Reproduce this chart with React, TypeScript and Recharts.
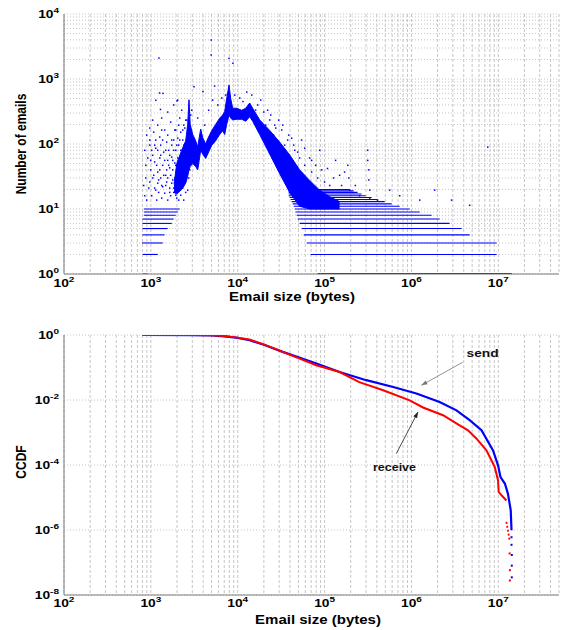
import React from 'react';
import {
  ComposedChart,
  XAxis,
  YAxis,
  CartesianGrid,
  Scatter,
  Line,
  Area,
  ReferenceLine,
  ReferenceDot,
} from 'recharts';

const FONT = '"Liberation Sans", Arial, Helvetica, sans-serif';
const BLUE = '#0000ff';
const RED = '#ff0000';
const GRID = '#c6c6c6';
const AXIS = '#7a7a7a';
const SX = 1.25;

// ---------- tick values ----------
const xTicks = [
  100, 200, 300, 400, 500, 600, 700, 800, 900,
  1000, 2000, 3000, 4000, 5000, 6000, 7000, 8000, 9000,
  10000, 20000, 30000, 40000, 50000, 60000, 70000, 80000, 90000,
  100000, 200000, 300000, 400000, 500000, 600000, 700000, 800000, 900000,
  1000000, 2000000, 3000000, 4000000, 5000000, 6000000, 7000000, 8000000, 9000000,
  10000000, 20000000, 30000000, 40000000,
];
const topYTicks = [
  1, 2, 3, 4, 5, 6, 7, 8, 9,
  10, 20, 30, 40, 50, 60, 70, 80, 90,
  100, 200, 300, 400, 500, 600, 700, 800, 900,
  1000, 2000, 3000, 4000, 5000, 6000, 7000, 8000, 9000,
  10000,
];
const bottomYTicks = [1e-8, 1e-6, 1e-4, 1e-2, 1];

// ---------- top panel: dense body of the distribution ----------
const bodyX = [
  1850, 1986, 2265, 2518, 2655, 2748, 2837, 3033, 3283, 3461, 3603, 3750, 3955, 4278,
  4510, 5012, 5572, 6196, 6712, 7079, 7464, 7943, 8299, 8750, 9730, 11120, 12360,
  13740, 14860, 17900, 23330, 30410, 39630, 51650, 67310, 87720, 114300, 148900,
];
const bodyLow = [
  18, 17, 20, 25, 32, 40, 45, 50, 45, 40, 56, 80, 70, 60,
  70, 95, 112, 140, 160, 140, 200, 280, 250, 235, 240, 240, 224,
  263, 224, 140, 70, 35, 18, 11, 10, 10, 10, 10,
];
const bodyHigh = [
  24, 50, 80, 112, 200, 480, 200, 140, 112, 90, 125, 170, 125, 100,
  120, 160, 200, 250, 280, 316, 500, 810, 500, 355, 355, 330, 355,
  427, 355, 235, 162, 107, 68, 40, 27.5, 19.5, 15.5, 13,
];

// ---------- top panel: rows of small counts [count, fromSize, toSize] ----------
const leftBands: [number, number, number][] = [
  [1, 805, 920],
  [2, 805, 1200],
  [3, 790, 1370],
  [4, 800, 1440],
  [5, 800, 1560],
  [6, 800, 1740],
  [7, 800, 1830],
  [8, 830, 1930],
  [9, 830, 2040],
  [10, 830, 2150],
];
const rightBands: [number, number, number][] = [
  [1, 83200, 14300000],
  [2, 69000, 9550000],
  [3, 62200, 9550000],
  [4, 57500, 4680000],
  [5, 54600, 3790000],
  [6, 51600, 2750000],
  [7, 49000, 2110000],
  [8, 47700, 1710000],
  [9, 46400, 1245000],
  [10, 45300, 955000],
  [11, 44100, 732000],
  [12, 42900, 593000],
  [13, 41800, 492000],
  [14, 40700, 408000],
  [15, 39600, 348000],
  [16, 38600, 297000],
  [17, 38600, 267000],
  [18, 38600, 240000],
  [19, 38600, 216000],
  [20, 38600, 195000],
];

// ---------- top panel: scattered points [size, count] ----------
const leftCloud: [number, number][] = [
  [895, 137], [970, 176], [1050, 233], [1200, 195], [1333, 251], [1443, 164], [1563, 310],
  [1690, 217], [1832, 398], [1932, 164], [2037, 473], [2148, 251], [2265, 331], [2389, 195],
  [1138, 115], [1265, 128],
  [849, 80], [873, 47], [920, 61], [970, 96], [995, 40], [1050, 67], [1107, 53], [1138, 86],
  [1200, 37], [1265, 61], [1298, 96], [1368, 47], [1406, 75], [1483, 33], [1521, 107],
  [1563, 56], [1603, 80], [1648, 43], [1738, 96], [1738, 63], [1832, 115], [1884, 51],
  [1932, 80], [2037, 123], [2094, 96], [2208, 152], [2328, 115], [2455, 176], [2588, 233],
  [1333, 164], [1079, 152],
  [828, 23], [849, 16], [873, 30], [895, 13.7], [946, 21], [970, 26], [1023, 16], [1050, 30],
  [1107, 21], [1167, 13.7], [1200, 25], [1230, 18], [1298, 30], [1333, 14.7], [1368, 22],
  [1443, 17.5], [1521, 26], [1563, 13.7], [1648, 21], [1690, 16], [1786, 28], [1832, 18],
  [1932, 23], [1986, 14.7], [2094, 19.5], [2148, 30], [2265, 22],
  [970, 115], [995, 56], [1023, 80], [1079, 33], [1107, 96], [1138, 19.5], [1167, 47],
  [1200, 80], [1230, 28], [1265, 40], [1298, 67], [1333, 23], [1368, 115], [1406, 33],
  [1443, 56], [1483, 80], [1483, 23], [1521, 40], [1563, 137], [1563, 30], [1603, 47],
  [1648, 67], [1648, 18], [1690, 33], [1738, 115], [1738, 25], [1786, 56], [1786, 40],
  [1832, 80], [1832, 21], [1884, 164], [1884, 30], [1932, 47], [1932, 16.3], [1986, 96],
  [1986, 37], [2037, 61], [2037, 23], [2094, 195], [2094, 47], [2148, 115], [2148, 19.5],
  [2208, 80], [2208, 33], [2265, 56], [2328, 164], [2328, 40], [2389, 96], [2389, 23],
  [2455, 67], [2518, 233], [2518, 33], [2588, 115], [2655, 56], [2730, 164], [2800, 80],
  [2877, 279], [2950, 137],
  [2208, 16.3], [2328, 21], [2455, 28], [2588, 37], [2730, 30], [2518, 18], [2389, 13.7],
  [2655, 19.5], [2800, 40], [2877, 56], [2950, 80], [2094, 13.7], [1986, 21],
];
const outliers: [number, number][] = [
  [4950, 3980], [4950, 2340], [1240, 2100], [7940, 2080], [8800, 1750],
  [1260, 610], [1380, 600], [1140, 470], [2000, 460], [1290, 340],
  [3140, 760], [3980, 640], [5420, 780], [11500, 450],
  [2950, 331], [3460, 251], [4170, 195], [4630, 331], [5150, 473], [5890, 398],
  [6550, 510], [7280, 566], [9250, 566], [10550, 510], [12700, 630], [14500, 566],
  [17000, 398], [19950, 310], [23400, 234], [26700, 195], [32100, 164], [37600, 115],
  [45300, 80], [51600, 61], [59000, 47], [71000, 37], [83200, 30], [100000, 26], [114500, 23],
  [17000, 251], [19400, 176], [22100, 331], [25900, 137], [29600, 233], [34700, 96],
  [41800, 123], [49000, 75], [59000, 86], [71000, 56], [87700, 80], [108000, 42],
  [134000, 56], [170000, 37],
  [16100, 333], [18400, 474], [21000, 195], [24000, 279], [27400, 176], [33000, 195],
  [38600, 137], [44100, 96], [54400, 115], [67300, 61], [78900, 47], [92500, 40],
  [127000, 30], [157000, 23],
  [185000, 47], [190000, 30], [195000, 19.5], [314000, 80], [314000, 56], [323000, 40],
  [323000, 28], [331000, 19.5], [331000, 14.7], [149000, 33], [226000, 23], [253000, 16],
  [408000, 13.7], [561000, 19.5], [733000, 16], [1245000, 13.7], [1850000, 19.5],
  [2900000, 13.7], [7570000, 89.5], [4680000, 11.4],
];

// ---------- bottom panel: CCDF ----------
const sendX = [
  800, 3000, 5000, 7080, 10000, 13700, 20000, 33000, 80500, 149000, 302000, 617000,
  1140000, 2110000, 3300000, 4680000, 6400000, 8700000, 9930000, 10600000, 11900000,
  12900000, 13900000, 14200000,
];
const sendY = [
  1, 0.998, 0.977, 0.912, 0.813, 0.692, 0.501, 0.302, 0.132, 0.0724, 0.0407, 0.0251,
  0.0158, 0.00871, 0.00479, 0.0024, 0.00117, 0.000282, 0.000098, 0.0000427, 0.0000269,
  0.0000132, 0.00000407, 0.00000098,
];
const sendTailX = [14200000, 14200000, 14300000, 14300000, 14300000];
const sendTailY = [6e-7, 3.5e-7, 1.7e-7, 8e-8, 3.5e-8];

const recvX = [
  800, 3000, 5000, 7080, 10000, 13700, 20000, 33000, 80500, 149000, 251000, 473000,
  955000, 1360000, 2310000, 3590000, 4480000, 5620000, 7300000, 9100000, 9930000,
  10100000, 10900000, 12400000,
];
const recvY = [
  1, 0.998, 0.985, 0.93, 0.83, 0.724, 0.513, 0.302, 0.117, 0.0724, 0.0355, 0.02,
  0.00977, 0.00589, 0.00339, 0.00166, 0.00117, 0.000646, 0.000282, 0.000087, 0.0000339,
  0.0000148, 0.0000117, 0.0000081,
];
const recvTail2X = [12400000, 12900000, 13500000];
const recvTail2Y = [1.78e-6, 9.8e-7, 4.8e-7];
const recvDotsX = [13500000, 13600000, 13600000];
const recvDotsY = [1.9e-7, 5.8e-8, 2.8e-8];

// annotation anchors (data coordinates)
const sendLabel = { x: 6600000, y: 0.273 };
const sendArrow = [{ x: 3890000, y: 0.145 }, { x: 1300000, y: 0.0283 }];
const recvLabel = { x: 638000, y: 0.000085 };
const recvArrow = [{ x: 670000, y: 0.000224 }, { x: 1190000, y: 0.00427 }];

// ---------- derived tables ----------
const bodyData = bodyX.map((x, i) => ({ x, range: [bodyLow[i], bodyHigh[i]] }));
const cloudData = [...leftCloud, ...outliers].map(([x, y]) => ({ x, y }));
const sendData = sendX.map((x, i) => ({ x, y: sendY[i] }));
const sendTail = sendTailX.map((x, i) => ({ x, y: sendTailY[i] }));
const recvData = recvX.map((x, i) => ({ x, y: recvY[i] }));
const recvTail2 = recvTail2X.map((x, i) => ({ x, y: recvTail2Y[i] }));
const recvDots = recvDotsX.map((x, i) => ({ x, y: recvDotsY[i] }));

// ---------- render helpers ----------
function powerOf(v: number): number | null {
  const l = Math.log10(v);
  const r = Math.round(l);
  return Math.abs(l - r) < 1e-6 ? r : null;
}

const XTick = (props: any) => {
  const { x, y, payload, dy0 } = props;
  const e = powerOf(payload.value);
  if (e === null) return <g />;
  return (
    <g transform={`translate(${x},${y + dy0})`}>
      <text transform={`scale(${SX},1)`} textAnchor="middle" fontFamily={FONT} fontWeight="bold" fill="#000">
        <tspan fontSize={11}>10</tspan>
        <tspan fontSize={8} dy={-5}>{e}</tspan>
      </text>
    </g>
  );
};

const YTick = (props: any) => {
  const { x, y, payload } = props;
  const e = powerOf(payload.value);
  if (e === null) return <g />;
  return (
    <g transform={`translate(${x - 5},${y + 3.9})`}>
      <text transform={`scale(${SX},1)`} textAnchor="end" fontFamily={FONT} fontWeight="bold" fill="#000">
        <tspan fontSize={11}>10</tspan>
        <tspan fontSize={8} dy={-5}>{e}</tspan>
      </text>
    </g>
  );
};

const XTitle = (props: any) => (
  <g transform={`translate(${props.tx},${props.ty})`}>
    <text transform={`scale(${SX},1)`} textAnchor="middle" fontFamily={FONT} fontWeight="bold" fontSize={12} fill="#000">
      {props.text}
    </text>
  </g>
);

const YTitle = (props: any) => (
  <g transform={`translate(${props.tx},${props.ty}) rotate(-90) scale(1,${SX})`}>
    <text textAnchor="middle" dominantBaseline="central" fontFamily={FONT} fontWeight="bold" fontSize={12} fill="#000">
      {props.text}
    </text>
  </g>
);

const BlueDot = (p: any) => (
  <rect x={p.cx - 0.75} y={p.cy - 0.75} width={1.5} height={1.5} fill={BLUE} />
);
const BlueDotBig = (p: any) => (
  <rect x={p.cx - 1} y={p.cy - 1} width={2} height={2} fill={BLUE} />
);
const RedDot = (p: any) => (
  <rect x={p.cx - 1} y={p.cy - 1} width={2} height={2} fill={RED} />
);

const makeArrow = (color: string) => (p: any) => {
  const { x1, y1, x2, y2 } = p;
  const ang = Math.atan2(y2 - y1, x2 - x1);
  const L = 6;
  const W = 2.2;
  const bx = x2 - L * Math.cos(ang);
  const by = y2 - L * Math.sin(ang);
  const pts = `${x2},${y2} ${bx + W * Math.sin(ang)},${by - W * Math.cos(ang)} ${bx - W * Math.sin(ang)},${by + W * Math.cos(ang)}`;
  return (
    <g>
      <line x1={x1} y1={y1} x2={x2} y2={y2} stroke={color} strokeWidth={0.8} />
      <polygon points={pts} fill={color} />
    </g>
  );
};

const makeLabel = (text: string, size: number) => (p: any) => (
  <g transform={`translate(${p.cx},${p.cy})`}>
    <text transform={`scale(${SX},1)`} textAnchor="middle" dominantBaseline="central" fontFamily={FONT} fontWeight="bold" fontSize={size} fill="#111">
      {text}
    </text>
  </g>
);

function TopChart() {
  return (
    <ComposedChart width={568} height={310} data={bodyData} margin={{ top: 14, right: 9, bottom: 0, left: 0 }}>
      <CartesianGrid horizontal={false} stroke={GRID} strokeDasharray="3 2" />
      <CartesianGrid vertical={false} stroke={GRID} strokeDasharray="1 2" />
      <XAxis
        dataKey="x"
        type="number"
        scale="log"
        domain={[100, 50000000]}
        allowDataOverflow
        ticks={xTicks}
        interval={0}
        tickSize={0}
        tickMargin={0}
        height={36}
        stroke={AXIS}
        tick={<XTick dy0={13.4} />}
        label={<XTitle tx={292} ty={301} text="Email size (bytes)" />}
      />
      <YAxis
        dataKey="y"
        type="number"
        scale="log"
        domain={[1, 10000]}
        allowDataOverflow
        ticks={topYTicks}
        interval={0}
        tickSize={0}
        tickMargin={0}
        width={64}
        stroke={AXIS}
        tick={<YTick />}
        label={<YTitle tx={21} ty={144} text="Number of emails" />}
      />
      <XAxis xAxisId="top" orientation="top" type="number" domain={[0, 1]} tick={false} height={0} stroke={AXIS} />
      <YAxis yAxisId="right" orientation="right" type="number" domain={[0, 1]} tick={false} width={0} stroke={AXIS} />
      <Area
        dataKey="range"
        type="linear"
        stroke={BLUE}
        strokeWidth={1}
        fill={BLUE}
        fillOpacity={1}
        dot={false}
        activeDot={false}
        isAnimationActive={false}
      />
      {leftBands.map(([c, a, b], i) => (
        <Line
          key={'lb' + i}
          data={[{ x: a, y: c }, { x: b, y: c }]}
          dataKey="y"
          stroke={BLUE}
          strokeWidth={1.1}
          dot={false}
          activeDot={false}
          isAnimationActive={false}
        />
      ))}
      {rightBands.map(([c, a, b], i) => (
        <Line
          key={'rb' + i}
          data={[{ x: a, y: c }, { x: b, y: c }]}
          dataKey="y"
          stroke={BLUE}
          strokeWidth={c === 1 ? 2 : 1.1}
          dot={false}
          activeDot={false}
          isAnimationActive={false}
        />
      ))}
      <Scatter data={cloudData} dataKey="y" shape={<BlueDot />} isAnimationActive={false} />
    </ComposedChart>
  );
}

function BottomChart() {
  return (
    <ComposedChart width={568} height={310} margin={{ top: 15, right: 9, bottom: 0, left: 0 }}>
      <CartesianGrid horizontal={false} stroke={GRID} strokeDasharray="3 2" />
      <CartesianGrid vertical={false} stroke={GRID} strokeDasharray="1 2" />
      <XAxis
        dataKey="x"
        type="number"
        scale="log"
        domain={[100, 50000000]}
        allowDataOverflow
        ticks={xTicks}
        interval={0}
        tickSize={0}
        tickMargin={0}
        height={35}
        stroke={AXIS}
        tick={<XTick dy0={11.8} />}
        label={<XTitle tx={318} ty={304} text="Email size (bytes)" />}
      />
      <YAxis
        dataKey="y"
        type="number"
        scale="log"
        domain={[1e-8, 1]}
        allowDataOverflow
        ticks={bottomYTicks}
        interval={0}
        tickSize={0}
        tickMargin={0}
        width={64}
        stroke={AXIS}
        tick={<YTick />}
        label={<YTitle tx={21} ty={142} text="CCDF" />}
      />
      <XAxis xAxisId="top" orientation="top" type="number" domain={[0, 1]} tick={false} height={0} stroke={AXIS} />
      <YAxis yAxisId="right" orientation="right" type="number" domain={[0, 1]} tick={false} width={0} stroke={AXIS} />
      <Line data={sendData} dataKey="y" stroke={BLUE} strokeWidth={2.2} dot={false} activeDot={false} isAnimationActive={false} />
      <Scatter data={sendTail} dataKey="y" shape={<BlueDotBig />} isAnimationActive={false} />
      <Line data={recvData} dataKey="y" stroke={RED} strokeWidth={2} dot={false} activeDot={false} isAnimationActive={false} />
      <Line data={recvTail2} dataKey="y" stroke={RED} strokeWidth={1.8} strokeDasharray="2 2" dot={false} activeDot={false} isAnimationActive={false} />
      <Scatter data={recvDots} dataKey="y" shape={<RedDot />} isAnimationActive={false} />
      <ReferenceLine segment={sendArrow} shape={makeArrow('#777777')} ifOverflow="visible" />
      <ReferenceLine segment={recvArrow} shape={makeArrow('#222222')} ifOverflow="visible" />
      <ReferenceDot x={sendLabel.x} y={sendLabel.y} r={0} shape={makeLabel('send', 11)} ifOverflow="visible" />
      <ReferenceDot x={recvLabel.x} y={recvLabel.y} r={0} shape={makeLabel('receive', 10)} ifOverflow="visible" />
    </ComposedChart>
  );
}

export default function App() {
  return (
    <div style={{ position: 'absolute', left: 0, top: 0, width: 568, height: 630, background: '#ffffff', fontFamily: FONT }}>
      <div style={{ position: 'absolute', left: 0, top: 0 }}>
        <TopChart />
      </div>
      <div style={{ position: 'absolute', left: 0, top: 320 }}>
        <BottomChart />
      </div>
    </div>
  );
}
